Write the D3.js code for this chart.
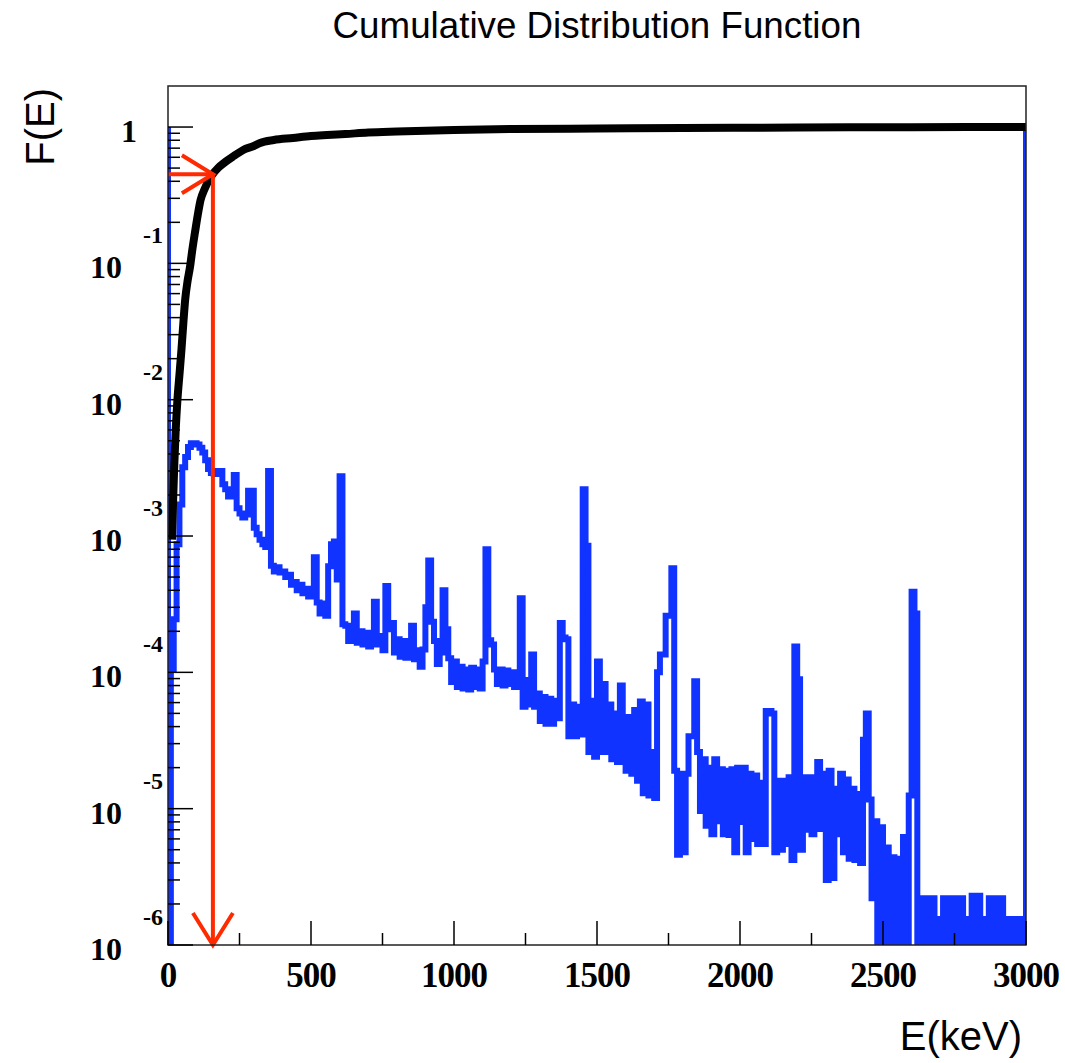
<!DOCTYPE html>
<html><head><meta charset="utf-8">
<script src="https://cdn.jsdelivr.net/npm/d3@7/dist/d3.min.js"></script>
<style>body{margin:0;background:#fff}svg{display:block}</style>
</head><body>
<svg id="c" width="1065" height="1063"></svg>
<script>
// ---------------- data ----------------
const binWidth = 10;            // keV per bin
const eMax = 3000;
// blue spectrum (density per keV), one value per 10 keV bin, 0..3000 keV
const pdf = [
 7.5e-7,1.05e-4,2.45e-4,8.7e-4,1.7e-3,3.2e-3,3.8e-3,4.5e-3,4.8e-3,4.8e-3,      //   0
 4.7e-3,4.45e-3,4.1e-3,3.6e-3,3.1e-3,2.9e-3,2.85e-3,3.0e-3,3.0e-3,2.4e-3,     // 100
 2.2e-3,1.95e-3,1.95e-3,2.8e-3,1.6e-3,1.46e-3,1.37e-3,1.44e-3,2.15e-3,2.15e-3,// 200
 1.15e-3,1.03e-3,9.4e-4,8.7e-4,8.3e-4,3.0e-3,6.05e-4,5.5e-4,5.9e-4,5.4e-4,    // 300
 5.5e-4,5.0e-4,5.2e-4,4.4e-4,4.6e-4,4.0e-4,4.4e-4,3.8e-4,4.1e-4,3.6e-4,       // 400
 3.9e-4,7.0e-4,3.25e-4,2.7e-4,3.2e-4,2.6e-4,6.0e-4,8.7e-4,9.1e-4,4.8e-4,      // 500
 2.75e-3,2.25e-4,2.2e-4,1.7e-4,2.15e-4,2.7e-4,1.65e-4,2.0e-4,1.6e-4,1.95e-4,  // 600
 1.55e-4,1.85e-4,3.3e-4,1.6e-4,1.85e-4,1.45e-4,4.3e-4,2.07e-4,2.3e-4,1.4e-4,  // 700
 1.75e-4,1.3e-4,1.7e-4,1.28e-4,1.6e-4,2.2e-4,1.25e-4,1.45e-4,1.1e-4,1.47e-4,  // 800
 3.0e-4,6.6e-4,2.35e-4,1.7e-4,1.15e-4,1.4e-4,4.0e-4,2.07e-4,1.27e-4,8.5e-5,   // 900
 1.2e-4,7.8e-5,1.1e-4,7.6e-5,1.05e-4,7.5e-5,1.08e-4,7.8e-5,1.05e-4,7.6e-5,    // 1000
 1.2e-4,8.0e-4,1.72e-4,1.6e-4,1.05e-4,8.2e-5,1.05e-4,8.0e-5,1.03e-4,8.2e-5,   // 1100
 1.0e-4,7.8e-5,9.5e-5,3.5e-4,5.6e-5,8.8e-5,5.8e-5,1.35e-4,5.6e-5,7.0e-5,      // 1200
 4.4e-5,6.6e-5,4.2e-5,6.4e-5,4.2e-5,6.2e-5,4.6e-5,2.3e-4,1.8e-4,1.75e-4,      // 1300
 3.4e-5,5.8e-5,3.4e-5,5.6e-5,3.5e-5,2.2e-3,8.5e-4,2.6e-5,6.2e-5,2.4e-5,       // 1400
 1.2e-4,2.6e-5,8.2e-5,2.6e-5,5.8e-5,2.3e-5,5.0e-5,2.2e-5,8.0e-5,4.2e-5,       // 1500
 1.9e-5,4.7e-5,1.8e-5,5.3e-5,1.6e-5,6.1e-5,1.3e-5,5.8e-5,1.25e-5,2.6e-5,      // 1600
 1.2e-5,1.0e-4,1.35e-4,1.35e-4,2.6e-4,2.6e-4,5.8e-4,1.9e-5,4.6e-6,1.8e-5,     // 1700
 4.8e-6,1.8e-5,3.4e-5,3.4e-5,8.6e-5,2.6e-5,9.6e-6,2.3e-5,7.5e-6,2.0e-5,       // 1800
 6.5e-6,2.3e-5,8.1e-6,1.95e-5,6.5e-6,1.9e-5,6.4e-6,1.95e-5,4.8e-6,2.0e-5,     // 1900
 8.0e-6,2.0e-5,4.8e-6,1.8e-5,6.0e-6,1.75e-5,5.5e-6,1.55e-5,5.5e-6,5.2e-5,     // 2000
 5.2e-5,5.0e-5,4.8e-6,1.6e-5,5.0e-6,1.6e-5,5.5e-6,1.7e-5,4.2e-6,1.55e-4,      // 2100
 8.9e-5,5.0e-6,1.7e-5,7.0e-6,1.7e-5,6.5e-6,1.7e-5,2.2e-5,7.1e-6,1.8e-5,       // 2200
 3.0e-6,1.9e-5,3.1e-6,1.4e-5,6.5e-6,1.8e-5,4.8e-6,1.64e-5,4.3e-6,1.4e-5,      // 2300
 4.2e-6,1.28e-5,4.0e-6,3.2e-5,5.0e-5,1.17e-5,2.2e-6,8.1e-6,7.5e-7,7.3e-6,     // 2400
 7.5e-7,5.2e-6,7.5e-7,4.4e-6,7.5e-7,4.3e-6,7.5e-7,6.2e-6,7.5e-7,1.25e-5,      // 2500
 3.9e-4,2.7e-4,7.5e-7,2.2e-6,7.5e-7,2.2e-6,7.5e-7,2.2e-6,7.5e-7,1.55e-6,      // 2600
 7.5e-7,2.2e-6,7.5e-7,2.2e-6,7.5e-7,2.2e-6,7.5e-7,2.2e-6,7.5e-7,1.55e-6,      // 2700
 7.5e-7,2.3e-6,7.5e-7,2.3e-6,7.5e-7,1.55e-6,7.5e-7,2.2e-6,7.5e-7,2.2e-6,      // 2800
 7.5e-7,2.2e-6,7.5e-7,1.55e-6,7.5e-7,1.55e-6,7.5e-7,1.55e-6,7.5e-7,1.55e-6    // 2900
];
const edgeLevel = 1;   // the blue outline rises to 1 at both ends of the range

// black cumulative distribution F(E)
const cdfE = [14,18,22,27,33,40,47,54,60,68,77,85,94,104,114,128,143,157,175,200,230,263,300,322,370,437,500,556,620,700,800,1000,1200,1500,1800,2200,2600,3000];
const cdfF = [9.4e-4,1.85e-3,3.34e-3,6.03e-3,1.0e-2,0.0152,0.0232,0.0373,0.054,0.0732,0.0942,0.1256,0.167,0.226,0.292,0.351,0.409,0.453,0.501,0.554,0.613,0.679,0.726,0.764,0.803,0.831,0.859,0.874,0.889,0.911,0.927,0.951,0.967,0.975,0.983,0.992,0.997,1.0];

// red arrow
const arrowE = 157, arrowF = 0.45;

const xTicksMajor = [0,500,1000,1500,2000,2500,3000];
const xTicksMinor = [250,750,1250,1750,2250,2750];
const xTickLabels = ["0","500","1000","1500","2000","2500","3000"];
const yDecades = [-6,-5,-4,-3,-2,-1,0];
const yMinorMult = [2,3,4,5,6,7,8,9];

const titleText = "Cumulative Distribution Function";
const xTitle = "E(keV)";
const yTitle = "F(E)";

// ---------------- drawing ----------------
const svg = d3.select("#c");
const F = {x0:168, x1:1026, y0:86, y1:945};
const x = d3.scaleLinear().domain([0,eMax]).range([F.x0,F.x1]);
const y = d3.scaleLog().domain([1e-6,2]).range([F.y1,F.y0]).clamp(true);

svg.append("rect").attr("width",1065).attr("height",1063).attr("fill","#fff");

svg.append("defs").append("clipPath").attr("id","clip")
  .append("rect").attr("x",F.x0).attr("y",F.y0).attr("width",F.x1-F.x0).attr("height",F.y1-F.y0);

const plot = svg.append("g").attr("clip-path","url(#clip)");

// blue histogram
const hpts = [[0,edgeLevel]]
  .concat(pdf.map((v,i)=>[i*binWidth,v]))
  .concat([[pdf.length*binWidth,pdf[pdf.length-1]],[pdf.length*binWidth,edgeLevel]]);
const hline = d3.line().x(d=>x(d[0])).y(d=>y(d[1])).curve(d3.curveStepAfter);
plot.append("path").attr("d",hline(hpts)).attr("fill","none")
  .attr("stroke","#1033ff").attr("stroke-width",6).attr("stroke-linejoin","miter").attr("stroke-miterlimit",2);

// red arrow
const red = "#ff2a00";
const ax = x(arrowE), ay = y(arrowF), ab = y(1e-6);
const rg = svg.append("g").attr("stroke",red).attr("stroke-width",4).attr("fill","none");
rg.append("line").attr("x1",x(0)).attr("y1",ay).attr("x2",ax).attr("y2",ay);
rg.append("path").attr("d",`M${ax-31},${ay-19}L${ax},${ay}L${ax-31},${ay+19}`);
rg.append("line").attr("x1",ax).attr("y1",ay).attr("x2",ax).attr("y2",ab);
rg.append("path").attr("d",`M${ax-20},${ab-32}L${ax},${ab}L${ax+20},${ab-32}`);

// black CDF
const cdf = cdfE.map((e,i)=>[e,cdfF[i]]);
plot.append("path").attr("d",d3.line().x(d=>x(d[0])).y(d=>y(d[1])).curve(d3.curveMonotoneX)(cdf))
  .attr("fill","none").attr("stroke","#000").attr("stroke-width",8);

// frame
svg.append("rect").attr("x",F.x0).attr("y",F.y0).attr("width",F.x1-F.x0).attr("height",F.y1-F.y0)
  .attr("fill","none").attr("stroke","#222").attr("stroke-width",1.5);

// ticks
const tg = svg.append("g").attr("stroke","#000").attr("stroke-width",1.5);
xTicksMajor.forEach(v=>tg.append("line").attr("x1",x(v)).attr("x2",x(v)).attr("y1",F.y1).attr("y2",F.y1-24));
xTicksMinor.forEach(v=>tg.append("line").attr("x1",x(v)).attr("x2",x(v)).attr("y1",F.y1).attr("y2",F.y1-12));
yDecades.forEach(d=>{
  const v = Math.pow(10,d);
  tg.append("line").attr("x1",F.x0).attr("x2",F.x0+25).attr("y1",y(v)).attr("y2",y(v));
  if (d<0) yMinorMult.forEach(m=>{
    const yy = y(m*v);
    tg.append("line").attr("x1",F.x0).attr("x2",F.x0+12).attr("y1",yy).attr("y2",yy);
  });
});

// tick labels
const serif = "'Liberation Serif','Times New Roman',serif";
const sans = "'Liberation Sans',Arial,Helvetica,sans-serif";
xTicksMajor.forEach((v,i)=>{
  svg.append("text").attr("x",x(v)).attr("y",987).attr("text-anchor","middle")
    .attr("font-family",serif).attr("font-weight","bold").attr("font-size",35)
    .attr("letter-spacing",-1).text(xTickLabels[i]);
});
yDecades.forEach(d=>{
  const yy = y(Math.pow(10,d));
  if (d===0) {
    svg.append("text").attr("x",137).attr("y",yy+15).attr("text-anchor","end")
      .attr("font-family",serif).attr("font-weight","bold").attr("font-size",32).text("1");
  } else {
    svg.append("text").attr("x",122).attr("y",yy+15).attr("text-anchor","end")
      .attr("font-family",serif).attr("font-weight","bold").attr("font-size",32).text("10");
    svg.append("text").attr("x",163).attr("y",yy-20).attr("text-anchor","end")
      .attr("font-family",serif).attr("font-weight","bold").attr("font-size",24).text("-"+(-d));
  }
});

// titles
const tt = svg.append("text").attr("x",597).attr("y",38).attr("text-anchor","middle")
  .attr("font-family",sans).attr("font-size",100).text(titleText);
const tw = tt.node().getComputedTextLength();
tt.attr("font-size",100*529/tw);

svg.append("text").attr("x",1022).attr("y",1050).attr("text-anchor","end")
  .attr("font-family",sans).attr("font-size",40).text(xTitle);
svg.append("text").attr("transform","translate(54,88) rotate(-90)").attr("text-anchor","end")
  .attr("font-family",sans).attr("font-size",40).text(yTitle);
</script>
</body></html>
